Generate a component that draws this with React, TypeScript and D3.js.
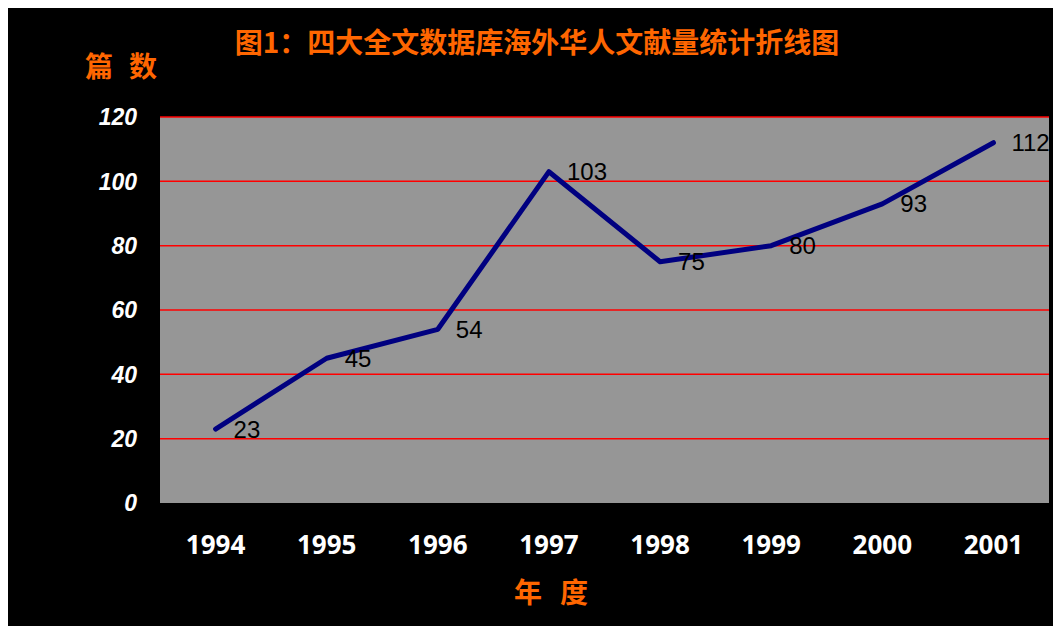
import { useEffect } from 'react'
import * as d3 from 'd3'

const years = ['1994', '1995', '1996', '1997', '1998', '1999', '2000', '2001']
const counts = [23, 45, 54, 103, 75, 80, 93, 112]
const yTicks = [0, 20, 40, 60, 80, 100, 120]

const title = '图1：四大全文数据库海外华人文献量统计折线图'
const yTitle = ['篇', '数']
const xTitle = ['年', '度']

const W = 1061
const H = 626
const plot = { left: 160, right: 1049, top: 117, bottom: 503 }
const orange = '#FF6600'
const cjk = '"Noto Sans CJK SC", sans-serif'

const App = () => {
    useEffect(() => {
        // the svg fills the window below the body margin, no scrollbars
        document.body.style.overflow = 'hidden'
    }, [])

    const x = d3
        .scaleBand<string>()
        .domain(years)
        .range([plot.left, plot.right])
    const y = d3
        .scaleLinear()
        .domain([0, 120])
        .range([plot.bottom, plot.top])

    const cx = (yr: string) => (x(yr) ?? 0) + x.bandwidth() / 2
    const pts = years.map((yr, i) => ({ yr, v: counts[i] }))

    const line = d3
        .line<{ yr: string; v: number }>()
        .x(d => cx(d.yr))
        .y(d => y(d.v))

    return (
        <div>
            <svg
                width={W - 8}
                height={H - 8}
                style={{ display: 'block' }}
            >
                <defs>
                    <clipPath id='plotClip'>
                        <rect
                            x={plot.left}
                            y={plot.top - 20}
                            width={plot.right - plot.left}
                            height={plot.bottom - plot.top + 20}
                        />
                    </clipPath>
                </defs>
                <g transform='translate(-8,-8)'>
                    <rect x={8} y={8} width={W - 8} height={H - 8} fill='#000' />
                    <rect
                        x={plot.left}
                        y={plot.top}
                        width={plot.right - plot.left}
                        height={plot.bottom - plot.top}
                        fill='#969696'
                    />
                    {yTicks
                        .filter(t => t > 0)
                        .map(t => (
                            <line
                                key={t}
                                x1={plot.left}
                                x2={plot.right}
                                y1={y(t)}
                                y2={y(t)}
                                stroke='#FF0000'
                                strokeWidth={1.5}
                            />
                        ))}
                    {yTicks.map(t => (
                        <text
                            key={t}
                            x={137}
                            y={y(t)}
                            dy='0.36em'
                            textAnchor='end'
                            fill='#fff'
                            fontFamily='"Liberation Sans", Arial, sans-serif'
                            fontWeight='bold'
                            fontStyle='italic'
                            fontSize={23}
                        >
                            {t}
                        </text>
                    ))}
                    {years.map(yr => (
                        <text
                            key={yr}
                            x={cx(yr)}
                            y={545}
                            dy='0.36em'
                            textAnchor='middle'
                            fill='#fff'
                            fontFamily='"Open Sans", sans-serif'
                            fontWeight='bold'
                            fontSize={26}
                        >
                            {yr}
                        </text>
                    ))}
                    <path
                        d={line(pts) ?? ''}
                        fill='none'
                        stroke='#000080'
                        strokeWidth={5}
                        strokeLinejoin='round'
                        strokeLinecap='round'
                    />
                    <g clipPath='url(#plotClip)'>
                        {pts.map(p => (
                            <text
                                key={p.yr}
                                x={cx(p.yr) + 18}
                                y={y(p.v)}
                                dy='0.36em'
                                fill='#000'
                                fontFamily='"Liberation Sans", Arial, sans-serif'
                                fontSize={24}
                            >
                                {p.v}
                            </text>
                        ))}
                    </g>
                    <text
                        x={537}
                        y={43}
                        dy='0.36em'
                        textAnchor='middle'
                        fill={orange}
                        fontFamily={cjk}
                        fontWeight='bold'
                        fontSize={28}
                    >
                        {title}
                    </text>
                    <text
                        y={67}
                        dy='0.36em'
                        textAnchor='middle'
                        fill={orange}
                        fontFamily={cjk}
                        fontWeight='bold'
                        fontSize={28}
                    >
                        <tspan x={99}>{yTitle[0]}</tspan>
                        <tspan x={143}>{yTitle[1]}</tspan>
                    </text>
                    <text
                        y={593}
                        dy='0.36em'
                        textAnchor='middle'
                        fill={orange}
                        fontFamily={cjk}
                        fontWeight='bold'
                        fontSize={28}
                    >
                        <tspan x={528}>{xTitle[0]}</tspan>
                        <tspan x={574}>{xTitle[1]}</tspan>
                    </text>
                </g>
            </svg>
        </div>
    )
}

export default App
